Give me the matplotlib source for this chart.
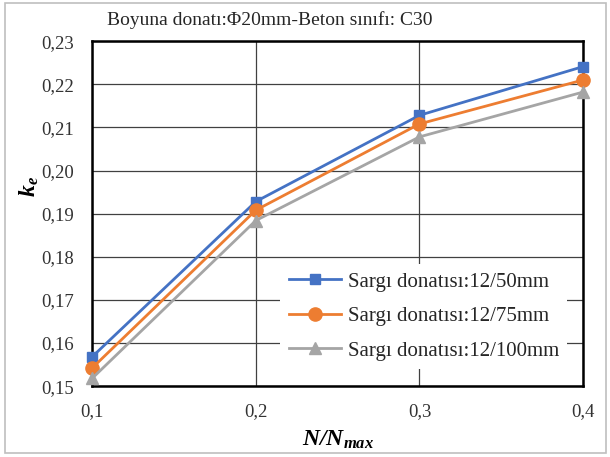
import matplotlib
matplotlib.use("Agg")
import matplotlib.pyplot as plt
from matplotlib.patches import Rectangle
from matplotlib.lines import Line2D

plt.rcParams['font.family'] = ['Liberation Serif', 'DejaVu Serif']
plt.rcParams['mathtext.fontset'] = 'custom'
plt.rcParams['mathtext.rm'] = 'Liberation Serif'
plt.rcParams['mathtext.it'] = 'Liberation Serif:italic'
plt.rcParams['mathtext.bf'] = 'Liberation Serif:bold'
plt.rcParams['mathtext.bfit'] = 'Liberation Serif:bold:italic'

title = "Boyuna donatı:Φ20mm-Beton sınıfı: C30"
x = [0.1, 0.2, 0.3, 0.4]
s50 = [0.1568, 0.1928, 0.2128, 0.2241]
s75 = [0.1542, 0.1908, 0.2108, 0.2210]
s100 = [0.1518, 0.1884, 0.2078, 0.2182]
names = ["Sargı donatısı:12/50mm", "Sargı donatısı:12/75mm", "Sargı donatısı:12/100mm"]
colors = ["#4472C4", "#ED7D31", "#A5A5A5"]
markers = ["s", "o", "^"]
msizes = [7, 9.5, 8.5]
xticks = [0.1, 0.2, 0.3, 0.4]
yticks = [0.15, 0.16, 0.17, 0.18, 0.19, 0.20, 0.21, 0.22, 0.23]

fig = plt.figure(figsize=(6.1, 4.57), dpi=100)
ax = fig.add_axes([0.151, 0.155, 0.805, 0.755])

handles = []
for ys, c, m, ms, nm in zip([s50, s75, s100], colors, markers, msizes, names):
    ax.plot(x, ys, color=c, lw=2.0, marker=m, markersize=ms, zorder=4,
            clip_on=False, solid_joinstyle='round')
    handles.append(Line2D([], [], color=c, lw=2.0, marker=m, markersize=ms))

ax.set_xlim(0.1, 0.4)
ax.set_ylim(0.15, 0.23)
ax.set_xticks(xticks)
ax.set_yticks(yticks)
ax.set_xticklabels([f"{v:.1f}".replace('.', ',') for v in xticks])
ax.set_yticklabels([f"{v:.2f}".replace('.', ',') for v in yticks])
ax.tick_params(labelsize=13.5, length=0, colors='#333333')
ax.tick_params(axis='y', pad=13)
ax.tick_params(axis='x', pad=12)
ax.grid(True, color='#404040', lw=0.9)
ax.set_axisbelow(True)
for sp in ax.spines.values():
    sp.set_linewidth(1.8)
    sp.set_color('black')

fig.text(338 / 610, 1 - 440 / 457, r'$\mathbfit{N/N_{max}}$', fontsize=17,
         ha='center', va='center')
fig.text(29 / 610, 1 - 187 / 457, r'$\mathbfit{k_e}$', fontsize=17,
         ha='center', va='center', rotation=90)
fig.text(270 / 610, 1 - 20 / 457, title, ha='center', va='center', fontsize=14, color='#262626')

leg = ax.legend(handles, names, loc='upper left', bbox_to_anchor=(0.383, 0.355),
                frameon=True, fontsize=15, handlelength=2.5, handletextpad=0.35,
                labelspacing=0.72, borderaxespad=0.0, borderpad=0.4)
leg.get_frame().set_edgecolor('none')
leg.get_frame().set_facecolor('white')
leg.get_frame().set_alpha(1)
leg.get_frame().set_boxstyle('square', pad=0)
for t in leg.get_texts():
    t.set_color('#262626')

fig.patches.append(Rectangle((0.008, 0.008), 0.986, 0.985, transform=fig.transFigure,
                             fill=False, edgecolor='#BFBFBF', lw=1.2))

fig.savefig("out.png", dpi=100)
